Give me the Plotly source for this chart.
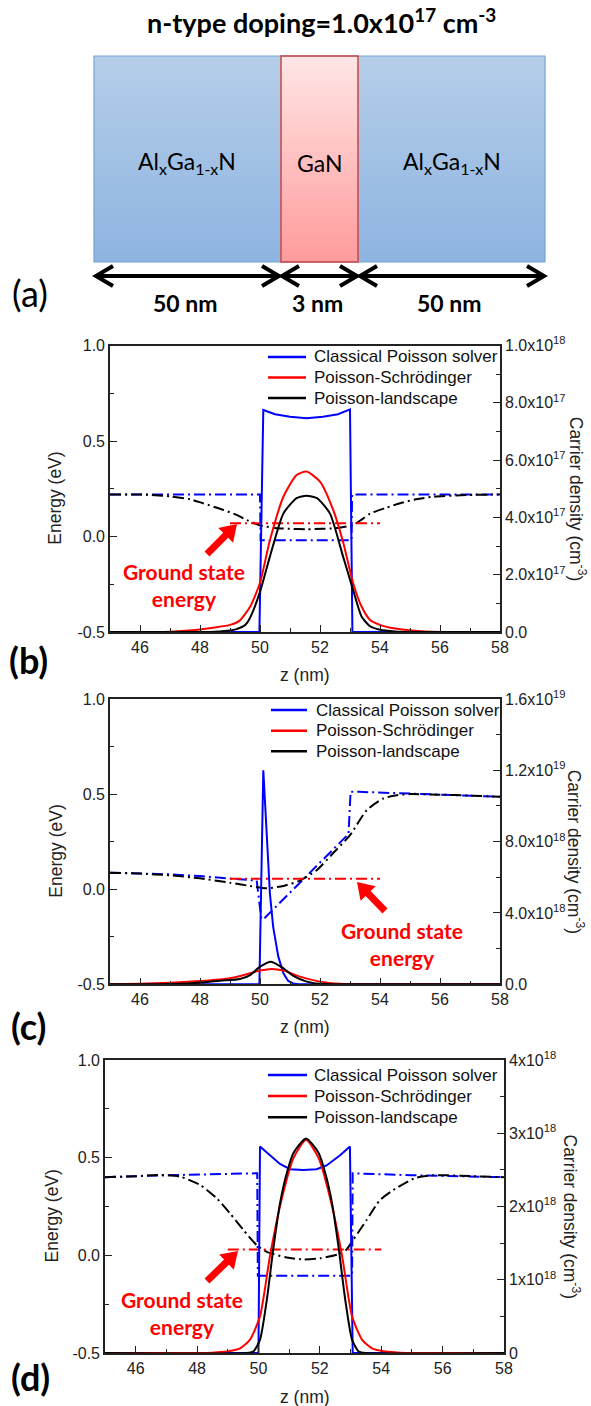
import plotly.graph_objects as go

W, H = 591, 1406

# ---------------- panel (b) ----------------
# carrier density (cm^-3), right axis
zb_cls = [45, 49.98, 50.11, 50.5, 51.0, 51.55, 52.1, 52.6, 53.0, 53.08, 58]
nb_cls = [0, 0, 7.75e17, 7.60e17, 7.51e17, 7.46e17, 7.51e17, 7.60e17, 7.77e17, 0, 0]
zb_ps = [45, 46.5, 47.0, 47.5, 48.0, 48.5, 49.0, 49.3, 49.67, 50.0, 50.33, 50.78, 51.22, 51.55,
         52.0, 52.44, 52.78, 53.1, 53.39, 53.67, 54.0, 54.5, 55.0, 55.5, 56.0, 58]
nb_ps = [0, 0, 0.01e17, 0.04e17, 0.09e17, 0.16e17, 0.25e17, 0.38e17, 0.88e17, 1.72e17, 3.2e17,
         4.72e17, 5.48e17, 5.6e17, 5.25e17, 4.26e17, 3.1e17, 1.72e17, 0.88e17, 0.42e17, 0.25e17,
         0.12e17, 0.06e17, 0.02e17, 0, 0]
zb_pl = [45, 48.0, 48.5, 49.0, 49.22, 49.5, 49.67, 50.0, 50.33, 50.78, 51.22, 51.55, 51.9, 52.33,
         52.77, 53.1, 53.39, 53.67, 54.0, 54.5, 55.0, 58]
nb_pl = [0, 0, 0.01e17, 0.05e17, 0.1e17, 0.24e17, 0.5e17, 1.4e17, 2.63e17, 4.14e17, 4.67e17,
         4.76e17, 4.67e17, 4.14e17, 2.63e17, 1.48e17, 0.53e17, 0.2e17, 0.08e17, 0.02e17, 0, 0]
# energies (eV), left axis
zb_ec = [45, 50.0, 50.02, 53.05, 53.07, 58]
eb_ec = [0.22, 0.22, -0.02, -0.02, 0.22, 0.22]
zb_ew = [45, 46, 47, 47.67, 48.1, 48.78, 49.22, 49.56, 50.0, 50.5, 51.0, 51.55, 52.1, 52.6, 53.1,
         53.4, 53.67, 54.2, 54.67, 55.2, 55.77, 56.9, 58]
eb_ew = [0.22, 0.22, 0.21, 0.195, 0.174, 0.139, 0.113, 0.086, 0.058, 0.045, 0.04, 0.038, 0.04,
         0.045, 0.06, 0.09, 0.12, 0.15, 0.174, 0.195, 0.208, 0.217, 0.22]
zb_e0 = [49, 54]
eb_e0 = [0.07, 0.07]

# ---------------- panel (c) ----------------
zc_cls = [45, 49.98, 50.11, 50.22, 50.33, 50.44, 50.61, 50.78, 50.94, 51.1, 51.3, 58]
nc_cls = [0, 0, 1.2e19, 8.3e18, 5.1e18, 3.2e18, 1.55e18, 0.62e18, 0.19e18, 0.05e18, 0, 0]
zc_ps = [45, 46, 47, 48, 49, 49.67, 50.0, 50.39, 50.78, 51.33, 52.0, 52.67, 53.3, 58]
nc_ps = [0, 0.03e18, 0.09e18, 0.18e18, 0.34e18, 0.62e18, 0.77e18, 0.86e18, 0.77e18, 0.43e18,
         0.15e18, 0.03e18, 0, 0]
zc_pl = [45, 47, 48, 48.67, 49.33, 49.67, 50.0, 50.37, 50.78, 51.11, 51.56, 52.0, 52.5, 58]
nc_pl = [0, 0.02e18, 0.09e18, 0.2e18, 0.3e18, 0.52e18, 0.99e18, 1.27e18, 0.9e18, 0.47e18,
         0.15e18, 0.03e18, 0, 0]
zc_ec = [45, 47, 48, 49, 49.89, 50.04, 50.1, 52.95, 53.02, 53.3, 54.67, 55.5, 57, 58]
ec_ec = [0.087, 0.078, 0.069, 0.058, 0.045, -0.15, -0.16, 0.29, 0.513, 0.512, 0.505, 0.498,
         0.492, 0.486]
zc_ew = [45, 46, 47, 48, 49, 49.67, 50.22, 50.78, 51.33, 51.89, 52.44, 53.0, 53.56, 54.11, 54.56,
         55, 56, 57, 58]
ec_ew = [0.087, 0.082, 0.073, 0.057, 0.034, 0.017, 0.005, 0.017, 0.045, 0.10, 0.19, 0.284, 0.416,
         0.477, 0.494, 0.50, 0.497, 0.492, 0.486]
zc_e0 = [49, 54]
ec_e0 = [0.055, 0.055]

# ---------------- panel (d) ----------------
zd_cls = [45, 50.0, 50.05, 50.37, 50.7, 51.03, 51.46, 51.89, 52.22, 52.66, 52.98, 53.07, 58]
nd_cls = [0, 0, 2.82e18, 2.70e18, 2.58e18, 2.51e18, 2.50e18, 2.51e18, 2.56e18, 2.70e18, 2.82e18, 0, 0]
zd_ps = [45, 48, 48.5, 48.96, 49.4, 49.72, 50.05, 50.37, 50.7, 51.14, 51.55, 51.96, 52.4, 52.73,
         53.05, 53.38, 53.7, 54.14, 54.6, 55.2, 58]
nd_ps = [0, 0, 0.005e18, 0.02e18, 0.064e18, 0.18e18, 0.5e18, 1.31e18, 2.0e18, 2.66e18, 2.91e18,
         2.66e18, 2.0e18, 1.31e18, 0.5e18, 0.18e18, 0.064e18, 0.02e18, 0.005e18, 0, 0]
zd_pl = [45, 49.6, 49.83, 50.05, 50.27, 50.48, 50.7, 50.92, 51.14, 51.55, 51.96, 52.18, 52.4,
         52.62, 52.83, 53.05, 53.27, 53.5, 58]
nd_pl = [0, 0, 0.02e18, 0.18e18, 0.72e18, 1.41e18, 2.04e18, 2.45e18, 2.73e18, 2.93e18, 2.73e18,
         2.45e18, 2.04e18, 1.41e18, 0.72e18, 0.18e18, 0.02e18, 0, 0]
zd_ec = [45, 47, 49.96, 49.98, 53.05, 53.07, 55, 58]
ed_ec = [0.40, 0.41, 0.42, -0.104, -0.104, 0.42, 0.41, 0.40]
zd_ew = [45, 46, 46.79, 47.44, 48.1, 48.64, 49.07, 49.51, 49.94, 50.27, 50.92, 51.46, 52.0, 52.6,
         52.87, 53.09, 53.52, 53.96, 54.35, 55.09, 55.7, 57, 58]
ed_ew = [0.40, 0.405, 0.411, 0.403, 0.36, 0.292, 0.215, 0.13, 0.053, 0.018, -0.011, -0.021,
         -0.015, 0.005, 0.03, 0.08, 0.18, 0.283, 0.33, 0.395, 0.41, 0.405, 0.40]
zd_e0 = [49, 54]
ed_e0 = [0.03, 0.03]

# tick labels
energy_ticks = [-0.5, 0.0, 0.5, 1.0]
energy_labels = ["-0.5", "0.0", "0.5", "1.0"]
z_ticks = [46, 48, 50, 52, 54, 56, 58]
b_ticks = [0, 2e17, 4e17, 6e17, 8e17, 1e18]
b_labels = ["0.0", "2.0x10<sup>17</sup>", "4.0x10<sup>17</sup>", "6.0x10<sup>17</sup>",
            "8.0x10<sup>17</sup>", "1.0x10<sup>18</sup>"]
c_ticks = [0, 4e18, 8e18, 1.2e19, 1.6e19]
c_labels = ["0.0", "4.0x10<sup>18</sup>", "8.0x10<sup>18</sup>", "1.2x10<sup>19</sup>",
            "1.6x10<sup>19</sup>"]
d_ticks = [0, 1e18, 2e18, 3e18, 4e18]
d_labels = ["0", "1x10<sup>18</sup>", "2x10<sup>18</sup>", "3x10<sup>18</sup>", "4x10<sup>18</sup>"]

legend_names = ["Classical Poisson solver", "Poisson-Schrödinger", "Poisson-landscape"]
BLUE, RED, BLACK = "#0000ff", "#ff0000", "#000000"
AXC = "#222222"
SANS = "Liberation Sans, Arial, sans-serif"
TICKFONT = dict(family=SANS, size=16, color="#222")
TITLEFONT = dict(family=SANS, size=17.5, color="#222")
CAL = "Lato, 'Open Sans', sans-serif"
DASHDOT = "11px,4px,2px,4px"


def px(x):
    return x / W


def py(y):
    return 1 - y / H


fig = go.Figure()
shapes = []
annos = []

panels = [
    dict(x0=110, x1=500, y0=345.5, y1=632, nmax=1e18, nt=b_ticks, nl=b_labels,
         nminor=[1e17, 3e17, 5e17, 7e17, 9e17],
         zc=zb_cls, nc=nb_cls, zp=zb_ps, np_=nb_ps, zl=zb_pl, nl_=nb_pl,
         zec=zb_ec, eec=eb_ec, zew=zb_ew, eew=eb_ew, ze0=zb_e0, ee0=eb_e0,
         leg=(268, 306, 312, [357, 377.5, 398]), ltx=55, rtx=578, label="(b)", lab=(28, 660),
         gs=(184, 585), arrow=((207, 554), (237, 524)), ztitle_y=675),
    dict(x0=110, x1=500, y0=699, y1=984.3, nmax=1.6e19, nt=c_ticks, nl=c_labels,
         nminor=[2e18, 6e18, 1e19, 1.4e19],
         zc=zc_cls, nc=nc_cls, zp=zc_ps, np_=nc_ps, zl=zc_pl, nl_=nc_pl,
         zec=zc_ec, eec=ec_ec, zew=zc_ew, eew=ec_ew, ze0=zc_e0, ee0=ec_e0,
         leg=(271, 307, 314, [710, 730.7, 751.3]), ltx=56, rtx=576, label="(c)", lab=(28, 1026),
         gs=(402, 943.5), arrow=((385, 911), (357, 882)), ztitle_y=1027),
    dict(x0=105, x1=504, y0=1060, y1=1353, nmax=4e18, nt=d_ticks, nl=d_labels,
         nminor=[0.5e18, 1.5e18, 2.5e18, 3.5e18],
         zc=zd_cls, nc=nd_cls, zp=zd_ps, np_=nd_ps, zl=zd_pl, nl_=nd_pl,
         zec=zd_ec, eec=ed_ec, zew=zd_ew, eew=ed_ew, ze0=zd_e0, ee0=ed_e0,
         leg=(268, 307, 312, [1075, 1096, 1117.3]), ltx=51, rtx=572, label="(d)", lab=(30, 1377),
         gs=(182, 1313), arrow=((207, 1281), (238, 1251)), ztitle_y=1397),
]

layout_axes = {}
for k, p in enumerate(panels):
    xi = k + 1
    yl = 2 * k + 1
    yr = 2 * k + 2
    xname = "x" if xi == 1 else f"x{xi}"
    ylname = "y" if yl == 1 else f"y{yl}"
    yrname = f"y{yr}"
    xkey = "xaxis" if xi == 1 else f"xaxis{xi}"
    ylkey = "yaxis" if yl == 1 else f"yaxis{yl}"
    yrkey = f"yaxis{yr}"

    dom_x = [px(p["x0"]), px(p["x1"])]
    dom_y = [py(p["y1"]), py(p["y0"])]

    layout_axes[xkey] = dict(
        domain=dom_x, anchor=ylname, range=[45, 58], tickmode="array", tickvals=z_ticks,
        ticktext=[str(t) for t in z_ticks], ticks="inside", ticklen=7, tickwidth=1.3,
        tickcolor=AXC, showline=True, linecolor=AXC, linewidth=1.6, mirror=True,
        showgrid=False, zeroline=False, tickfont=TICKFONT, automargin=False,
        minor=dict(tickmode="array", tickvals=[47, 49, 51, 53, 55, 57], ticks="inside",
                   ticklen=4, tickwidth=1.2, tickcolor=AXC, showgrid=False),
    )
    layout_axes[ylkey] = dict(
        domain=dom_y, anchor=xname, range=[-0.5, 1.0], tickmode="array", tickvals=energy_ticks,
        ticktext=energy_labels, ticks="inside", ticklen=7, tickwidth=1.3, tickcolor=AXC,
        showline=True, linecolor=AXC, linewidth=1.6, showgrid=False, zeroline=False,
        tickfont=TICKFONT, automargin=False,
        minor=dict(tickmode="array", tickvals=[-0.25, 0.25, 0.75], ticks="inside", ticklen=4,
                   tickwidth=1.2, tickcolor=AXC, showgrid=False),
    )
    layout_axes[yrkey] = dict(
        overlaying=ylname, side="right", anchor=xname, range=[0, p["nmax"]], tickmode="array",
        tickvals=p["nt"], ticktext=p["nl"], ticks="inside", ticklen=7, tickwidth=1.3,
        tickcolor=AXC, showline=True, linecolor=AXC, linewidth=1.6, showgrid=False,
        zeroline=False, tickfont=TICKFONT, automargin=False,
        minor=dict(tickmode="array", tickvals=p["nminor"], ticks="inside", ticklen=4,
                   tickwidth=1.2, tickcolor=AXC, showgrid=False),
    )

    # band-edge / landscape / ground-state energies (dash-dot, left axis)
    for zz, ee, col, shp in [(p["zec"], p["eec"], BLUE, "linear"),
                             (p["zew"], p["eew"], BLACK, "spline"),
                             (p["ze0"], p["ee0"], RED, "linear")]:
        fig.add_trace(go.Scatter(x=zz, y=ee, mode="lines", xaxis=xname, yaxis=ylname,
                                 line=dict(color=col, width=2, dash=DASHDOT, shape=shp,
                                           smoothing=0.6),
                                 showlegend=False, hoverinfo="skip"))
    # carrier densities (solid, right axis)
    for zz, nn, col, name, shp in [(p["zc"], p["nc"], BLUE, legend_names[0], "linear"),
                                   (p["zp"], p["np_"], RED, legend_names[1], "spline"),
                                   (p["zl"], p["nl_"], BLACK, legend_names[2], "spline")]:
        fig.add_trace(go.Scatter(x=zz, y=nn, mode="lines", xaxis=xname, yaxis=yrname,
                                 line=dict(color=col, width=2, shape=shp, smoothing=0.6),
                                 name=name, showlegend=False, hoverinfo="skip"))

    # legend box
    lx0, lx1, ltx, rows = p["leg"]
    for col, name, ry in zip([BLUE, RED, BLACK], legend_names, rows):
        shapes.append(dict(type="line", xref="paper", yref="paper", x0=px(lx0), x1=px(lx1),
                           y0=py(ry), y1=py(ry), line=dict(color=col, width=2.5)))
        annos.append(dict(text=name, xref="paper", yref="paper", x=px(ltx), y=py(ry),
                          xanchor="left", yanchor="middle", showarrow=False,
                          font=dict(family=SANS, size=17, color="#111")))

    # axis titles
    ymid = (p["y0"] + p["y1"]) / 2 + 10
    annos.append(dict(text="Energy (eV)", xref="paper", yref="paper", x=px(p["ltx"]),
                      y=py(ymid), textangle=-90, showarrow=False, xanchor="center",
                      yanchor="middle", font=TITLEFONT))
    annos.append(dict(text="Carrier density (cm<sup>-3</sup>)", xref="paper", yref="paper",
                      x=px(p["rtx"]), y=py(ymid), textangle=90, showarrow=False,
                      xanchor="center", yanchor="middle", font=TITLEFONT))
    annos.append(dict(text="z (nm)", xref="paper", yref="paper",
                      x=px((p["x0"] + p["x1"]) / 2), y=py(p["ztitle_y"]), showarrow=False,
                      xanchor="center", yanchor="middle", font=TITLEFONT))
    # panel letter
    annos.append(dict(text="<b>" + p["label"] + "</b>", xref="paper", yref="paper",
                      x=px(p["lab"][0]), y=py(p["lab"][1]), showarrow=False, xanchor="center",
                      yanchor="middle", font=dict(family=CAL, size=36, color="#000")))
    # ground-state label and pointer
    annos.append(dict(text="<b>Ground state<br>energy</b>", xref="paper", yref="paper",
                      x=px(p["gs"][0]), y=py(p["gs"][1]), showarrow=False, xanchor="center",
                      yanchor="middle", align="center",
                      font=dict(family=CAL, size=21, color=RED)))
    (tx, ty), (hx, hy) = p["arrow"]
    dx, dy = hx - tx, hy - ty
    L = (dx * dx + dy * dy) ** 0.5
    ux, uy = dx / L, dy / L
    nx, ny = -uy, ux
    sw, hw, hl = 3.5, 10.5, 16
    bx, by = hx - ux * hl, hy - uy * hl
    pts = [(tx + nx * sw, ty + ny * sw), (bx + nx * sw, by + ny * sw),
           (bx + nx * hw, by + ny * hw), (hx, hy), (bx - nx * hw, by - ny * hw),
           (bx - nx * sw, by - ny * sw), (tx - nx * sw, ty - ny * sw)]
    path = "M " + " L ".join(f"{px(a):.5f},{py(b):.5f}" for a, b in pts) + " Z"
    shapes.append(dict(type="path", xref="paper", yref="paper", path=path,
                       fillcolor=RED, line=dict(width=0)))

# ---------------- panel (a): layer schematic ----------------
BX0, BX1, BY0, BY1 = 94, 545, 56, 262
GX0, GX1 = 281, 358
NSTRIP = 60
blue_top, blue_bot = (181, 206, 233), (142, 180, 224)
pink_top, pink_bot = (255, 230, 230), (255, 155, 155)
# vertical gradient: each band runs to the bottom edge and is overdrawn by the next one
for i in range(NSTRIP):
    f = (i + 0.5) / NSTRIP
    ya = BY0 + (BY1 - BY0) * i / NSTRIP
    cb = tuple(round(blue_top[j] + (blue_bot[j] - blue_top[j]) * f) for j in range(3))
    shapes.append(dict(type="rect", xref="paper", yref="paper", x0=px(BX0), x1=px(BX1),
                       y0=py(BY1), y1=py(ya), fillcolor="rgb(%d,%d,%d)" % cb, line=dict(width=0),
                       layer="below"))
for i in range(NSTRIP):
    f = (i + 0.5) / NSTRIP
    ya = BY0 + (BY1 - BY0) * i / NSTRIP
    cp = tuple(round(pink_top[j] + (pink_bot[j] - pink_top[j]) * f) for j in range(3))
    shapes.append(dict(type="rect", xref="paper", yref="paper", x0=px(GX0), x1=px(GX1),
                       y0=py(BY1), y1=py(ya), fillcolor="rgb(%d,%d,%d)" % cp, line=dict(width=0),
                       layer="below"))
shapes.append(dict(type="rect", xref="paper", yref="paper", x0=px(BX0), x1=px(BX1),
                   y0=py(BY1), y1=py(BY0), line=dict(color="rgb(120,162,212)", width=1.2)))
shapes.append(dict(type="rect", xref="paper", yref="paper", x0=px(GX0), x1=px(GX1),
                   y0=py(BY1), y1=py(BY0), line=dict(color="rgb(205,70,70)", width=1.5)))

# dimension arrows
AY = 276
for a0, a1 in [(96, 279), (282, 357), (360, 544)]:
    shapes.append(dict(type="line", xref="paper", yref="paper", x0=px(a0 + 1), x1=px(a1 - 1),
                       y0=py(AY), y1=py(AY), line=dict(color="#000", width=4)))
    for tip, sgn in [(a0, 1), (a1, -1)]:
        pth = (f"M {px(tip + sgn * 17):.5f},{py(AY - 10):.5f} L {px(tip):.5f},{py(AY):.5f} "
               f"L {px(tip + sgn * 17):.5f},{py(AY + 10):.5f}")
        shapes.append(dict(type="path", xref="paper", yref="paper", path=pth,
                           line=dict(color="#000", width=4)))

layer_labels = ["Al<sub>x</sub>Ga<sub>1-x</sub>N", "GaN", "Al<sub>x</sub>Ga<sub>1-x</sub>N"]
layer_label_x = [187, 319.5, 452]
for t, xx in zip(layer_labels, layer_label_x):
    annos.append(dict(text=t, xref="paper", yref="paper", x=px(xx), y=py(163), showarrow=False,
                      xanchor="center", yanchor="middle",
                      font=dict(family=CAL, size=23, color="#000")))
thickness_labels = ["50 nm", "3 nm", "50 nm"]
for t, xx in zip(thickness_labels, [185, 317, 450]):
    annos.append(dict(text="<b>" + t + "</b>", xref="paper", yref="paper", x=px(xx), y=py(303),
                      showarrow=False, xanchor="center", yanchor="middle",
                      font=dict(family=CAL, size=23, color="#000")))
annos.append(dict(text="(a)", xref="paper", yref="paper", x=px(30), y=py(293), showarrow=False,
                  xanchor="center", yanchor="middle", font=dict(family=CAL, size=36, color="#000")))
annos.append(dict(text="<b>n-type doping=1.0x10<sup>17</sup> cm<sup>-3</sup></b>", xref="paper",
                  yref="paper", x=px(321), y=py(21), showarrow=False, xanchor="center",
                  yanchor="middle", font=dict(family=CAL, size=27, color="#000")))

fig.update_layout(
    width=W, height=H, autosize=False, margin=dict(l=0, r=0, t=0, b=0, pad=0),
    paper_bgcolor="white", plot_bgcolor="rgba(0,0,0,0)", showlegend=False,
    shapes=shapes, annotations=annos, **layout_axes,
)

fig.write_html("out.html")
